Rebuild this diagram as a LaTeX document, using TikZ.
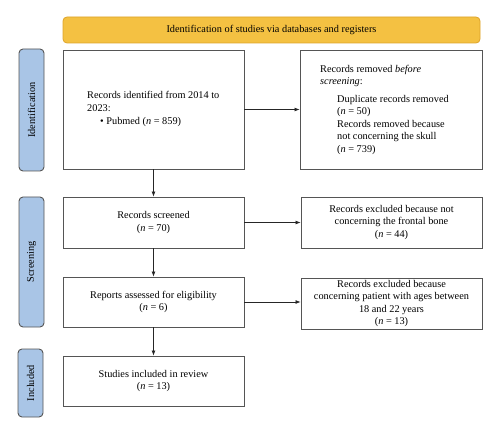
\documentclass[tikz,border=0pt]{standalone}
\usepackage{fontspec}
\setmainfont{Liberation Serif}
\usetikzlibrary{arrows.meta}
\definecolor{bannerfill}{HTML}{F4C142}
\definecolor{bannerline}{HTML}{DDA32A}
\definecolor{sidefill}{HTML}{A9C5E6}
\definecolor{boxline}{HTML}{555555}
\tikzset{
  box/.style={draw=boxline, line width=0.9pt, fill=white, inner sep=0pt},
  side/.style={draw=boxline, line width=0.9pt, fill=sidefill, rounded corners=4pt, inner sep=0pt},
  banner/.style={draw=bannerline, line width=0.8pt, fill=bannerfill, rounded corners=4pt, inner sep=0pt},
  txt/.style={inner sep=0pt, font=\fontsize{10.3}{12.5}\selectfont},
  arr/.style={-{Latex[length=5pt,width=4pt]}, line width=0.7pt, draw=black!85},
}
\begin{document}
\begin{tikzpicture}[x=1pt,y=-1pt]
\useasboundingbox (0,0) rectangle (500,435);
% banner
\node[banner, minimum width=417pt, minimum height=26pt, txt] (ban) at (271.5,30) {Identification of studies via databases and registers};
% side labels
\node[side, minimum width=25pt, minimum height=122pt] (sid) at (31.5,110) {};
\node[txt, rotate=90] (sidt) at (sid.center) {Identification};
\node[side, minimum width=25pt, minimum height=130pt] (sscr) at (31.5,262) {};
\node[txt, rotate=90] (sscrt) at (sscr.center) {Screening};
\node[side, minimum width=25pt, minimum height=68pt] (sinc) at (30.5,383) {};
\node[txt, rotate=90] (sinct) at (sinc.center) {Included};
% boxes
\node[box, minimum width=181pt, minimum height=119pt] (A) at (153.5,109.5) {};
\node[txt, align=left, anchor=west] (At) at (87,109) {Records identified from 2014 to\\2023:\\[1pt]\hspace{13pt}\textbullet\ Pubmed (\textit{n} = 859)};
\node[box, minimum width=182pt, minimum height=119pt] (B) at (391,109.5) {};
\node[txt, align=left, anchor=west] (Bt) at (320,109.5) {Records removed \textit{before}\\\textit{screening}:\\[5pt]
\hspace{17pt}Duplicate records removed\\\hspace{17pt}(\textit{n} = 50)\\\hspace{17pt}Records removed because\\\hspace{17pt}not concerning the skull\\\hspace{17pt}(\textit{n} = 739)};
\node[box, minimum width=181pt, minimum height=51pt, txt, align=center] (C) at (153.5,222.5) {Records screened\\(\textit{n} = 70)};
\node[box, minimum width=181pt, minimum height=51pt, txt, align=center] (D) at (391.5,222.5) {Records excluded because not\\concerning the frontal bone\\(\textit{n} = 44)};
\node[box, minimum width=181pt, minimum height=50pt, txt, align=center] (E) at (153.5,302) {Reports assessed for eligibility\\(\textit{n} = 6)};
\node[box, minimum width=181pt, minimum height=51pt, txt, align=center] (F) at (391.5,303.5) {Records excluded because\\concerning patient with ages between\\18 and 22 years\\(\textit{n} = 13)};
\node[box, minimum width=181pt, minimum height=50pt, txt, align=center] (G) at (153.5,381) {Studies included in review\\(\textit{n} = 13)};
% arrows
\draw[arr] (A.east) -- (B.west);
\draw[arr] (C.east) -- (D.west);
\draw[arr] (E.east) -- (E.east -| F.west);
\draw[arr] (A.south) -- (C.north);
\draw[arr] (C.south) -- (E.north);
\draw[arr] (E.south) -- (G.north);
\end{tikzpicture}
\end{document}
